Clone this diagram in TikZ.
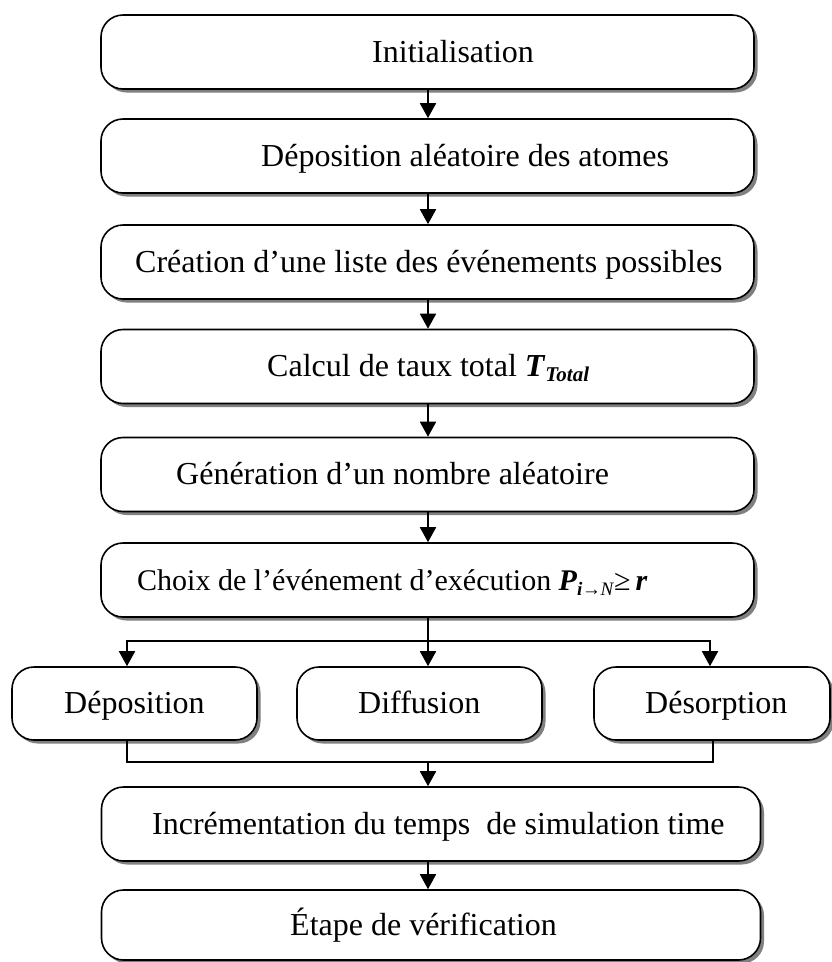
\documentclass[tikz,border=0pt]{standalone}
\usepackage{fontspec}
\setmainfont{Liberation Serif}
\usetikzlibrary{arrows.meta,shadows,calc}
\begin{document}
\begin{tikzpicture}[x=1pt,y=-1pt,
  box/.style={draw=black,line width=1.6pt,fill=white,rounded corners=22pt,inner sep=0pt,
     drop shadow={shadow xshift=3.5pt,shadow yshift=-3.5pt,fill=black!50,opacity=1}},
  wide/.style={box,minimum width=653pt,minimum height=74pt},
  small/.style={box,minimum width=245pt,minimum height=73pt},
  txt/.style={inner sep=0pt,anchor=west,text height=27pt,text depth=7pt,font=\fontsize{32}{38}\selectfont},
  arr/.style={line width=1.8pt,-{Triangle[length=15pt,width=16pt]}},
  ln/.style={line width=1.8pt}]
\useasboundingbox (0,0) rectangle (832,962);
% boxes
\node[wide] (b1) at (427.5,52) {};
\node[wide] (b2) at (427.5,156) {};
\node[wide] (b3) at (427.5,262) {};
\node[wide] (b4) at (427.5,366.5) {};
\node[wide] (b5) at (427.5,474.5) {};
\node[wide] (b6) at (427.5,580) {};
\node[small] (d1) at (134.5,703.5) {};
\node[small] (d2) at (419.5,703.5) {};
\node[small,minimum width=236pt] (d3) at (712,703.5) {};
\node[box,minimum width=659pt,minimum height=74pt] (b7) at (431,824) {};
\node[box,minimum width=659pt,minimum height=70pt] (b8) at (431,925) {};
% texts
\node[txt] (t1) at (372,52) {Initialisation};
\node[txt] (t2) at (261,156) {Déposition aléatoire des atomes};
\node[txt] (t3) at (135,262) {Création d’une liste des événements possibles};
\node[txt] (t4) at (267,366.5) {Calcul de taux total \textbf{\textit{T}}\raisebox{-0.35ex}{\fontsize{21}{21}\selectfont\textbf{\textit{Total}}}};
\node[txt] (t5) at (176,474.5) {Génération d’un nombre aléatoire};
\node[txt,font=\fontsize{30}{36}\selectfont] (t6) at (137,580) {Choix de l’événement d’exécution \textbf{\textit{P}}\raisebox{-0.4ex}{\fontsize{19}{19}\selectfont\textbf{\textit{i}}\kern-0.5pt→\kern-0.5pt\textit{N}}≥\,\textbf{\textit{r}}};
\node[txt] (t7) at (64,703.5) {Déposition};
\node[txt] (t8) at (358,703.5) {Diffusion};
\node[txt] (t9) at (645,703.5) {Désorption};
\node[txt] (t10) at (152,824) {Incrémentation du temps\ \ de simulation time};
\node[txt] (t11) at (290,925) {Étape de vérification};
% connectors
\coordinate (ax) at (428,0);
\draw[arr] (b1.south -| ax) -- (b2.north -| ax);
\draw[arr] (b2.south -| ax) -- (b3.north -| ax);
\draw[arr] (b3.south -| ax) -- (b4.north -| ax);
\draw[arr] (b4.south -| ax) -- (b5.north -| ax);
\draw[arr] (b5.south -| ax) -- (b6.north -| ax);
\coordinate (sp) at (428,641);
\coordinate (mg) at (428,762);
\draw[arr] (b6.south -| sp) -- (d2.north -| sp);
\draw[arr] (sp) -| ([xshift=-7.5pt]d1.north);
\draw[arr] (sp) -| ([xshift=-2pt]d3.north);
\draw[ln] ([xshift=-7.5pt]d1.south) |- (mg) -| ([xshift=1pt]d3.south);
\draw[arr] (mg) -- (b7.north -| mg);
\draw[arr] (b7.south -| mg) -- (b8.north -| mg);
\end{tikzpicture}
\end{document}
